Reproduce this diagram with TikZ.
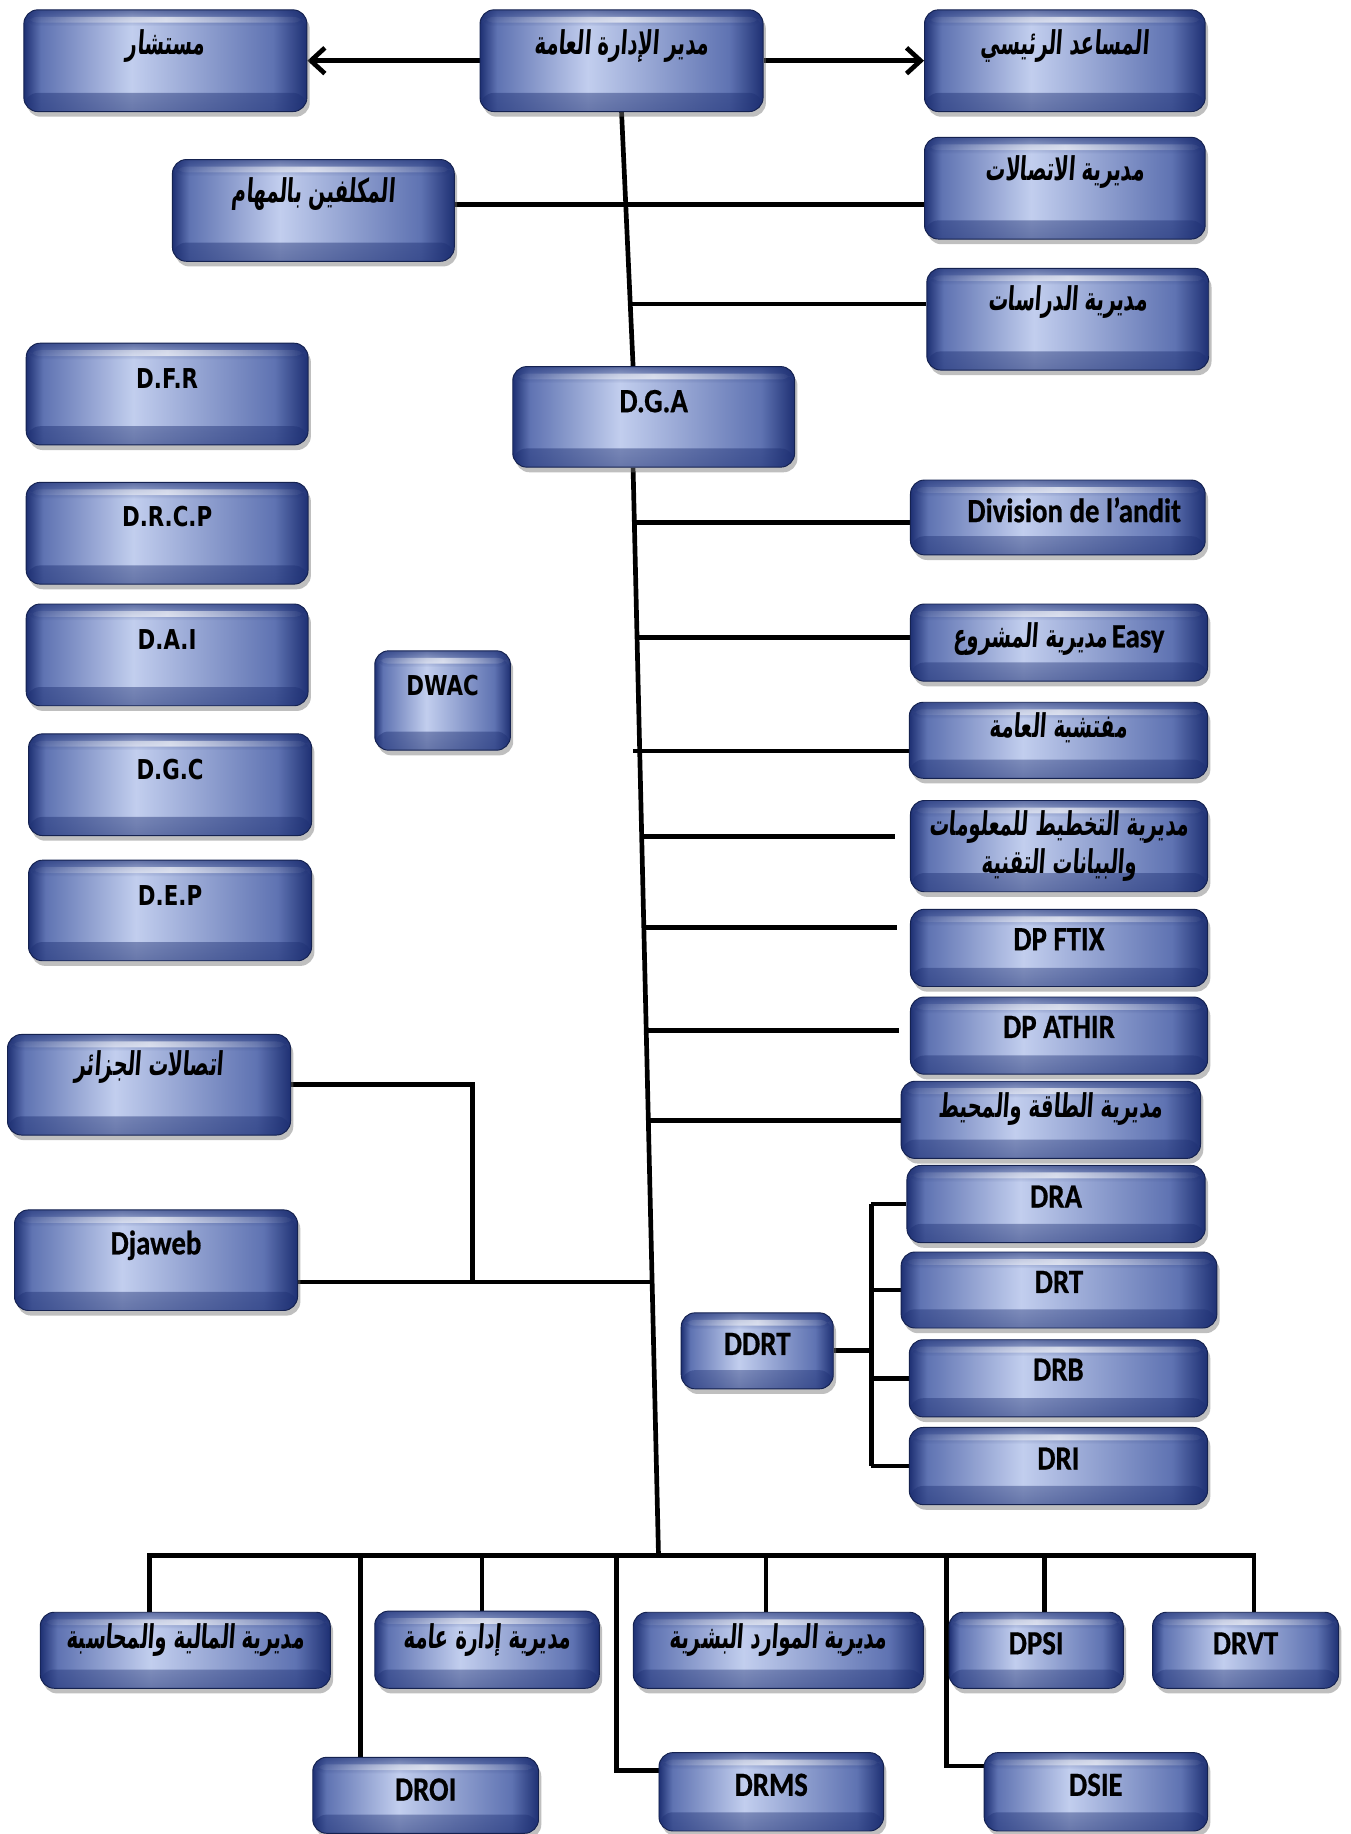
\documentclass[tikz,border=0pt]{standalone}
\usepackage{fontspec}
\usepackage{graphicx}
\usetikzlibrary{shadows,fadings,arrows.meta,calc}
\TeXXeTstate=1
\newfontfamily\carl[BoldFeatures={FakeBold=0.6}]{Carlito}
\newfontfamily\dejav{DejaVu Sans}
\newfontfamily\arabicfont[Script=Arabic,FakeSlant=0.12]{DejaVu Sans}
\definecolor{navyA}{RGB}{30,48,115}
\definecolor{midA}{RGB}{95,115,178}
\definecolor{lightB}{RGB}{194,206,238}
\newcommand\latxt[1]{\scalebox{0.85}[1]{\carl\bfseries\fontsize{14.5}{17}\selectfont #1}}
\newcommand\dvtxt[1]{\scalebox{0.78}[1]{\dejav\bfseries\fontsize{11.7}{14}\selectfont #1}}
\newcommand\artxt[1]{\scalebox{0.6}[1]{\arabicfont\bfseries\fontsize{14}{17}\selectfont\beginR #1\endR}}
\pgfdeclarehorizontalshading{boxshade}{100bp}{color(0bp)=(navyA); color(25bp)=(navyA); color(28bp)=(midA); color(44bp)=(lightB); color(69bp)=(midA); color(75bp)=(navyA); color(100bp)=(navyA)}
\tikzfading[name=fadetop, top color=transparent!0, bottom color=transparent!100]
\tikzfading[name=fadebot, top color=transparent!100, bottom color=transparent!0]
\tikzfading[name=fadeline, left color=transparent!100, right color=transparent!100, middle color=transparent!10]
\pgfdeclarelayer{bg}
\pgfsetlayers{bg,main}
\tikzset{
  obx/.style={rounded corners=6pt, draw=navyA!70!black, line width=0.4pt,
    shade, shading=boxshade, inner xsep=4pt,
    drop shadow={shadow xshift=1.2pt, shadow yshift=-2.2pt, opacity=0.45, fill=black!55},
    path picture={
      \fill[navyA, opacity=0.55, path fading=fadebot] (path picture bounding box.south west) rectangle ([yshift=8pt]path picture bounding box.south east);
      \fill[navyA, opacity=0.6, path fading=fadetop] (path picture bounding box.north west) rectangle ([yshift=-7pt]path picture bounding box.north east);
      \fill[white, opacity=0.75, path fading=fadeline] ([yshift=-3pt]path picture bounding box.north west) rectangle ([yshift=-5.5pt]path picture bounding box.north east);
    }},
  conn/.style={line width=2pt, black},
  arr/.style={conn, -{Straight Barb[length=6pt,width=11pt,line width=2pt]}}
}
\newcommand\obox[8][]{%
  \pgfmathsetmacro\obW{(#5-#3)*0.5}%
  \pgfmathsetmacro\obT{(#7-#4)*0.5}%
  \pgfmathsetmacro\obD{(#6-#7)*0.5}%
  \node[obx, anchor=north west, minimum width=\obW pt, inner ysep=0pt, text height=\obT pt, text depth=\obD pt, #1] (#2) at (#3,#4) {#8};}
\newcommand\oboxc[7][]{%
  \pgfmathsetmacro\obW{(#5-#3)*0.5}%
  \pgfmathsetmacro\obH{(#6-#4)*0.5}%
  \node[obx, anchor=north west, minimum width=\obW pt, minimum height=\obH pt, align=center, #1] (#2) at (#3,#4) {#7};}
\begin{document}
\begin{tikzpicture}[x=0.5pt, y=-0.5pt]
\begin{pgfonlayer}{bg}
\fill[white] (0,0) rectangle (1155,1568);
\end{pgfonlayer}
\useasboundingbox (0,0) rectangle (1155,1568);
% top
\obox{mustashar}{20}{8}{262}{95}{46}{\artxt{مستشار}}
\obox{mudir}{410}{8}{652}{95}{46}{\artxt{مدير الإدارة العامة}}
\obox{musaid}{790}{8}{1030}{95}{46}{\artxt{المساعد الرئيسي}}
\obox{mukallafin}{147}{136}{388}{223}{173}{\artxt{المكلفين بالمهام}}
\obox{ittisalat}{790}{117}{1030}{204}{154}{\artxt{مديرية الاتصالات}}
\obox{dirasat}{792}{229}{1033}{316}{265}{\artxt{مديرية الدراسات}}
\obox{DGA}{438}{313}{679}{399}{352}{\latxt{D.G.A}}
% left column
\obox{DFR}{22}{293}{263}{380}{332}{\dvtxt{D.F.R}}
\obox{DRCP}{22}{412}{263}{499}{450}{\dvtxt{D.R.C.P}}
\obox{DAI}{22}{516}{263}{603}{555}{\dvtxt{D.A.I}}
\obox{DGC}{24}{627}{266}{714}{666}{\dvtxt{D.G.C}}
\obox{DEP}{24}{735}{266}{821}{774}{\dvtxt{D.E.P}}
\obox{DWAC}{320}{556}{436}{641}{594}{\dvtxt{DWAC}}
% right column
\obox{andit}{778}{410}{1030}{474}{446}{\hspace*{14pt}\latxt{Division de l’andit}}
\obox{easy}{778}{516}{1032}{582}{553}{\artxt{مديرية المشروع}\,\latxt{Easy}}
\obox{mufat}{777}{600}{1032}{665}{630}{\artxt{مفتشية العامة}}
\oboxc[font=\fontsize{14}{16}\selectfont]{takhtit}{778}{684}{1032}{762}{\artxt{مديرية التخطيط للمعلومات}\\\artxt{والبيانات التقنية}}
\obox{FTIX}{778}{777}{1032}{843}{812}{\latxt{DP FTIX}}
\obox{ATHIR}{778}{852}{1032}{918}{887}{\latxt{DP ATHIR}}
\obox{taqa}{770}{924}{1026}{990}{955}{\artxt{مديرية الطاقة والمحيط}}
\obox{DRA}{775}{996}{1030}{1062}{1032}{\latxt{DRA}}
\obox{DRT}{770}{1070}{1040}{1135}{1105}{\latxt{DRT}}
\obox{DRB}{777}{1145}{1032}{1211}{1180}{\latxt{DRB}}
\obox{DRI}{777}{1220}{1032}{1286}{1256}{\latxt{DRI}}
\obox{DDRT}{582}{1122}{712}{1187}{1158}{\latxt{DDRT}}
% left lower
\obox{alg}{6}{884}{248}{970}{919}{\artxt{اتصالات الجزائر}}
\obox{djaweb}{12}{1034}{254}{1120}{1072}{\latxt{Djaweb}}
% bottom
\obox{maliya}{34}{1378}{282}{1443}{1409}{\artxt{مديرية المالية والمحاسبة}}
\obox{idara}{320}{1377}{512}{1443}{1409}{\artxt{مديرية إدارة عامة}}
\obox{mawarid}{541}{1378}{789}{1443}{1409}{\artxt{مديرية الموارد البشرية}}
\obox{DPSI}{811}{1378}{960}{1443}{1414}{\latxt{DPSI}}
\obox{DRVT}{985}{1378}{1144}{1443}{1414}{\latxt{DRVT}}
\obox{DROI}{267}{1502}{460}{1567}{1539}{\latxt{DROI}}
\obox{DRMS}{563}{1498}{755}{1565}{1535}{\latxt{DRMS}}
\obox{DSIE}{841}{1498}{1032}{1565}{1535}{\latxt{DSIE}}
% connectors
\begin{pgfonlayer}{bg}
\draw[arr] (mudir.west) -- (mustashar.east);
\draw[arr] (mudir.east) -- (musaid.west);
\coordinate (dgaT) at ($(DGA.north west)!0.427!(DGA.north east)$);
\coordinate (dgaB) at ($(DGA.south west)!0.427!(DGA.south east)$);
\draw[conn] (mudir.south) -- (dgaT);
\draw[conn] (mukallafin.east) ++(0,-5) coordinate (k1) -- (k1 -| ittisalat.west);
\coordinate (jd) at (538,260);
\draw[conn] (jd) -- (jd -| dirasat.west);
\coordinate (bus) at (563,1330);
\draw[conn] (dgaB) -- (bus);
\coordinate (j1) at (542,447);
\draw[conn] (j1) -- (j1 -| andit.west);
\coordinate (j2) at (545,545);
\draw[conn] (j2) -- (j2 -| easy.west);
\coordinate (j3) at (541,642);
\draw[conn] (j3) -- (j3 -| mufat.west);
\coordinate (j4) at (548,715);
\coordinate (e4) at (765,715);
\draw[conn] (j4) -- (e4);
\coordinate (j5) at (550,793);
\coordinate (e5) at (767,793);
\draw[conn] (j5) -- (e5);
\coordinate (j6) at (552,881);
\coordinate (e6) at (769,881);
\draw[conn] (j6) -- (e6);
\coordinate (j7) at (555,958);
\draw[conn] (j7) -- (j7 -| taqa.west);
\coordinate (j8) at (557,1096);
\coordinate (b1) at (404,1096);
\draw[conn] (alg.east) -| (b1);
\draw[conn] (j8 -| djaweb.east) -- (j8);
\coordinate (bx) at (745,1100);
\draw[conn] (DRA.west -| bx) -- (DRI.west -| bx);
\foreach \n in {DRA,DRT,DRB,DRI} \draw[conn] (\n.west -| bx) -- (\n.west);
\draw[conn] (DDRT.east) -- (DDRT.east -| bx);
\coordinate (d1) at (128,1330);
\coordinate (d2) at (308,1330);
\coordinate (d3) at (412,1330);
\coordinate (d4) at (527,1330);
\coordinate (d5) at (655,1330);
\coordinate (d6) at (809,1330);
\coordinate (d7) at (893,1330);
\coordinate (d8) at (1072,1330);
\draw[conn] (d1 |- maliya.north) -- (d1) -- (d8) -- (d8 |- DRVT.north);
\draw[conn] (d2) -- (d2 |- DROI.north);
\draw[conn] (d3) -- (d3 |- idara.north);
\path (DRMS.west) ++(0,-18) coordinate (f4);
\draw[conn] (d4) |- (f4);
\draw[conn] (d5) -- (d5 |- mawarid.north);
\path (DSIE.west) ++(0,-22) coordinate (f6);
\draw[conn] (d6) |- (f6);
\draw[conn] (d7) -- (d7 |- DPSI.north);
\end{pgfonlayer}
\end{tikzpicture}
\end{document}
